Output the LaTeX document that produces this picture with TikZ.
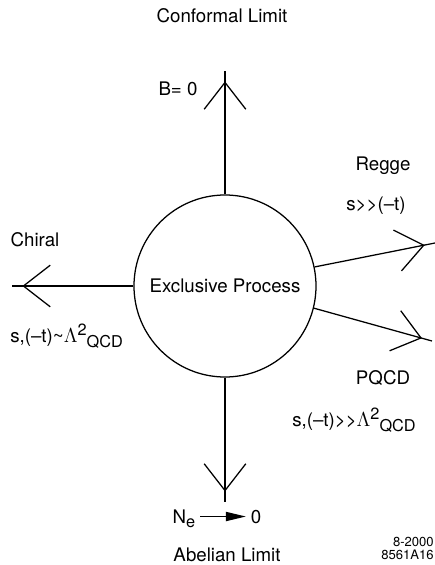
\documentclass[tikz,border=0pt]{standalone}
\usepackage{fontspec}
\setmainfont{TeX Gyre Heros}
\usetikzlibrary{arrows.meta,positioning,decorations.markings}
\newcommand{\subsz}{\fontsize{11.6}{12}\selectfont}
\newcommand{\lqcd}{$\Lambda$\raisebox{.75ex}{\subsz 2}\raisebox{-.5ex}{\subsz QCD}}
\tikzset{proc/.style={circle,draw,line width=.9pt,minimum size=45.5mm,inner sep=0pt},
  limit/.style={line width=.9pt,postaction={decorate},
    decoration={markings,mark=at position -2.6mm with {\arrow{Straight Barb[length=6.7mm,width=10.4mm]}}}},
  lbl/.style={inner sep=0pt}}

\begin{document}
\begin{tikzpicture}[x=.25mm,y=.25mm,font=\fontsize{13.3}{16}\selectfont]
\useasboundingbox (-225,286) rectangle (210,-279);
\node[proc] (proc) at (0,0) {Exclusive Process};
\coordinate (up) at (0,215);
\coordinate (lt) at (-213,0);
\coordinate (rg) at (210,43);
\coordinate (pq) at (207,-55);
\coordinate (dn) at (0,-216);
\draw[limit] (proc.north) -- (up);
\draw[limit] (proc.west) -- (lt);
\draw[limit] (proc.12) -- (rg);
\draw[limit] (proc.-14) -- (pq);
\draw[limit] (proc.south) -- (dn);
\node[lbl] (conf) at (-3,270) {Conformal Limit};
\node[lbl] (bzero) at (-47,197) {B= 0};
\node[lbl] (regge) at (158,120) {Regge};
\node[lbl] (sgg) at (151,80) {s>{}>(--t)};
\node[lbl] (chiral) at (-190,46) {Chiral};
\node[lbl,anchor=west] (chl) at (-215,-50) {s,(--t)\textasciitilde\lqcd};
\node[lbl] (pqcd) at (158,-92) {PQCD};
\node[lbl,anchor=west] (spq) at (67,-134) {s,(--t)>{}>\lqcd};
\node[anchor=base] (ne) at (-41,-237) {N\raisebox{-.5ex}{\subsz e}};
\node[anchor=base] (zero) at (31,-237) {0};
\draw[line width=.9pt,-{Triangle[length=5mm,width=2.3mm]}] (ne.east |- zero.west) -- (zero.west);
\node[lbl] (abel) at (2,-269) {Abelian Limit};
\node[lbl,anchor=east,align=right,font=\fontsize{9.3}{9.3}\selectfont] (stamp) at (209,-262) {8-2000\\8561A16};
\end{tikzpicture}
\end{document}
